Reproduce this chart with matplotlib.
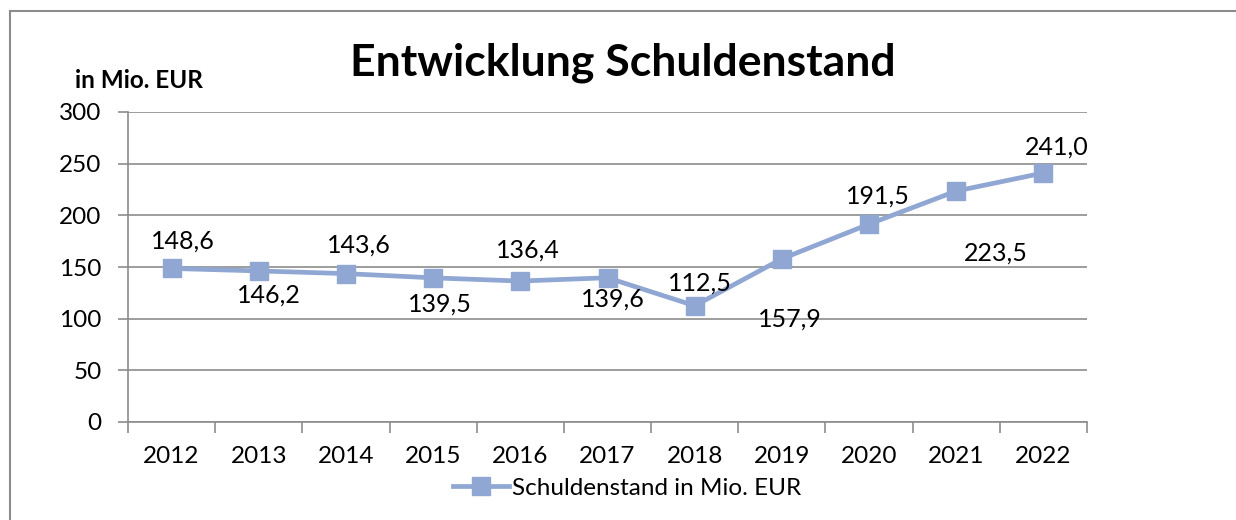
import matplotlib
matplotlib.use("Agg")
import matplotlib.pyplot as plt
from matplotlib.lines import Line2D

plt.rcParams['font.family'] = ['Lato', 'DejaVu Sans']

years = ['2012', '2013', '2014', '2015', '2016', '2017', '2018', '2019', '2020', '2021', '2022']
values = [148.6, 146.2, 143.6, 139.5, 136.4, 139.6, 112.5, 157.9, 191.5, 223.5, 241.0]
labels = ['148,6', '146,2', '143,6', '139,5', '136,4', '139,6', '112,5', '157,9', '191,5', '223,5', '241,0']
# label offsets in pixels (dx, dy)
offsets = [(11, 27), (10, -24), (13, 29), (7, -26), (8, 31), (5, -21), (5, 23), (8, -60), (9, 28), (40, -62), (13, 26)]

color = '#8FA7D2'
grid_c = '#8C8C8C'
fs = 17.5

fig = plt.figure(figsize=(12.36, 5.2), dpi=100)
ax = fig.add_axes([128/1236, 1-422/520, (1087-128)/1236, (422-112)/520])

x = list(range(len(years)))
ax.plot(x, values, color=color, lw=3.4, marker='s', markersize=13,
        markerfacecolor=color, markeredgecolor=color, zorder=3)

for xi, v, lab, (dx, dy) in zip(x, values, labels, offsets):
    ax.annotate(lab, (xi, v), xytext=(dx, dy), textcoords='offset pixels',
                ha='center', va='center', fontsize=18, color='black', zorder=4)

ax.set_xlim(-0.5, len(years) - 0.5)
ax.set_ylim(0, 300)
ax.set_yticks([0, 50, 100, 150, 200, 250, 300])
ax.set_xticks([i - 0.5 for i in range(len(years) + 1)], minor=False)
ax.set_xticklabels([])
ax.set_xticks(x, minor=True)
ax.set_xticklabels(years, minor=True)
ax.tick_params(axis='x', which='major', length=8, width=1.2, color=grid_c, direction='out')
ax.tick_params(axis='x', which='minor', length=0, pad=17, labelsize=fs)
ax.tick_params(axis='y', length=7, width=1.2, color=grid_c, labelsize=fs, pad=12)
ax.grid(axis='y', color=grid_c, lw=1.2)
ax.set_axisbelow(True)
for s in ['top', 'right']:
    ax.spines[s].set_visible(False)
for s in ['left', 'bottom']:
    ax.spines[s].set_color(grid_c)
    ax.spines[s].set_linewidth(1.2)

fig.text(623/1236, 1-63/520, 'Entwicklung Schuldenstand', ha='center', va='center',
         fontsize=32, fontweight='bold')
fig.text(139/1236, 1-80/520, 'in Mio. EUR', ha='center', va='center',
         fontsize=17.5, fontweight='bold')

handle = Line2D([], [], color=color, lw=3.4, marker='s', markersize=13,
                markerfacecolor=color, markeredgecolor=color)
fig.legend([handle], ['Schuldenstand in Mio. EUR'], loc='center', bbox_to_anchor=(627/1236, 1-488/520),
           frameon=False, fontsize=fs, handlelength=2.3, handletextpad=0.1, borderpad=0)

# chart frame
fig.add_artist(Line2D([10/1236, 10/1236], [1-11/520, 0], transform=fig.transFigure, color='#8C8C8C', lw=1.5))
fig.add_artist(Line2D([10/1236, 1], [1-11/520, 1-11/520], transform=fig.transFigure, color='#8C8C8C', lw=1.5))

fig.savefig('out.png', dpi=100)
